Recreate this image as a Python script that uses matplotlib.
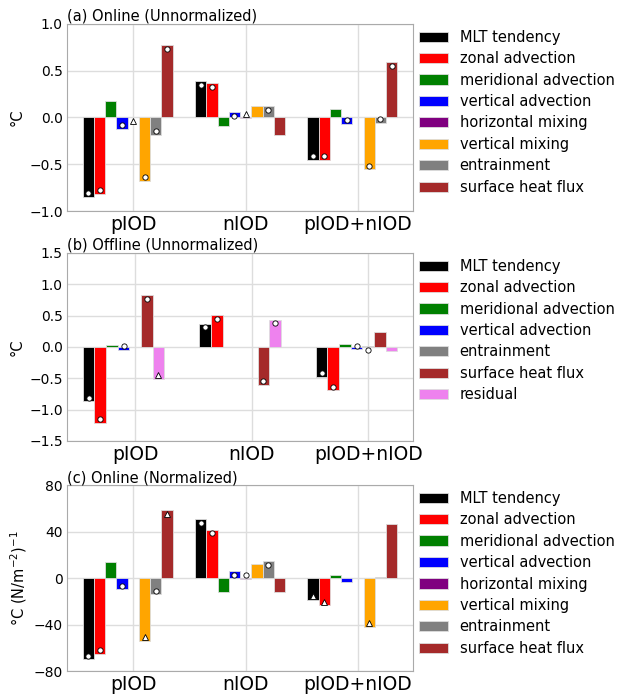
import numpy as np
import matplotlib
matplotlib.use('Agg')
import matplotlib.pyplot as plt

plt.rcParams['font.family'] = 'DejaVu Sans'

# Groups on the x axis
groups = ['pIOD', 'nIOD', 'pIOD+nIOD']

# Budget terms (online panels) and offline panel
terms_online = ['MLT tendency', 'zonal advection', 'meridional advection', 'vertical advection',
                'horizontal mixing', 'vertical mixing', 'entrainment', 'surface heat flux']
colors_online = ['black', 'red', 'green', 'blue', 'purple', 'orange', 'gray', 'brown']

terms_offline = ['MLT tendency', 'zonal advection', 'meridional advection', 'vertical advection',
                 'entrainment', 'surface heat flux', 'residual']
colors_offline = ['black', 'red', 'green', 'blue', 'gray', 'brown', 'violet']

# (a) Online (Unnormalized), rows = terms, columns = pIOD, nIOD, pIOD+nIOD
online_unnorm = [
    [-0.846, 0.389, -0.457],
    [-0.818, 0.364, -0.457],
    [0.175, -0.086, 0.089],
    [-0.125, 0.054, -0.071],
    [0.002, -0.002, 0.0],
    [-0.675, 0.118, -0.554],
    [-0.182, 0.118, -0.060],
    [0.775, -0.186, 0.593],
]
sig_online_unnorm = [
    ['o', 'o', 'o'],
    ['o', 'o', 'o'],
    ['', '', ''],
    ['o', 'o', 'o'],
    ['^', '^', ''],
    ['o', '', 'o'],
    ['o', 'o', 'o'],
    ['o', '', 'o'],
]

# (b) Offline (Unnormalized)
offline_unnorm = [
    [-0.870, 0.374, -0.480],
    [-1.210, 0.507, -0.694],
    [0.037, 0.0, 0.043],
    [-0.048, 0.0, -0.037],
    [0.004, 0.004, 0.010],
    [0.833, -0.603, 0.235],
    [-0.507, 0.438, -0.059],
]
sig_offline_unnorm = [
    ['o', 'o', 'o'],
    ['o', 'o', 'o'],
    ['', '', ''],
    ['o', '', 'o'],
    ['', '', 'o'],
    ['o', 'o', ''],
    ['^', 'o', ''],
]

# (c) Online (Normalized)
online_norm = [
    [-70.0, 50.5, -18.9],
    [-65.4, 41.6, -23.5],
    [13.5, -11.8, 2.3],
    [-9.75, 5.7, -3.7],
    [0.0, -0.6, 0.0],
    [-53.9, 11.8, -41.9],
    [-14.05, 14.6, 0.5],
    [58.5, -12.3, 46.5],
]
sig_online_norm = [
    ['o', 'o', '^'],
    ['o', 'o', '^'],
    ['', '', ''],
    ['o', 'o', ''],
    ['', 'o', ''],
    ['^', '', '^'],
    ['o', 'o', ''],
    ['^', '', ''],
]

panels = [
    ('(a) Online (Unnormalized)', online_unnorm, sig_online_unnorm, terms_online, colors_online,
     (-1.0, 1.0), [-1.0, -0.5, 0.0, 0.5, 1.0], ['\u22121.0', '\u22120.5', '0.0', '0.5', '1.0'], '\u00b0C'),
    ('(b) Offline (Unnormalized)', offline_unnorm, sig_offline_unnorm, terms_offline, colors_offline,
     (-1.5, 1.5), [-1.5, -1.0, -0.5, 0.0, 0.5, 1.0, 1.5],
     ['\u22121.5', '\u22121.0', '\u22120.5', '0.0', '0.5', '1.0', '1.5'], '\u00b0C'),
    ('(c) Online (Normalized)', online_norm, sig_online_norm, terms_online, colors_online,
     (-80, 80), [-80, -40, 0, 40, 80], ['\u221280', '\u221240', '0', '40', '80'],
     '\u00b0C (N/m$^{-2}$)$^{-1}$'),
]

fig = plt.figure(figsize=(6.18, 6.95), dpi=100)
axes_pos = [
    [0.1084, 0.6964, 0.560, 0.2691],
    [0.1084, 0.3655, 0.560, 0.2705],
    [0.1084, 0.0345, 0.560, 0.2676],
]

x = np.arange(len(groups))
width = 0.1

for pos, (title, vals, sig, terms, cols, ylim, yticks, yticklabels, ylabel) in zip(axes_pos, panels):
    ax = fig.add_axes(pos)
    ax.set_axisbelow(True)
    ax.grid(True, color='#dddddd', linewidth=1.0)
    off = 0.02 * (ylim[1] - ylim[0])
    for i, (term, c) in enumerate(zip(terms, cols)):
        v = np.array(vals[i])
        ax.bar(x + (i - 4) * width, v, width, color=c, label=term,
               edgecolor='#dddddd', linewidth=0.6)
        for j in range(len(groups)):
            m = sig[i][j]
            if m:
                ax.plot(x[j] + (i - 4) * width, v[j] - np.sign(v[j]) * off, marker=m,
                        markersize=3.8, markerfacecolor='white', markeredgecolor='black',
                        markeredgewidth=0.6, linestyle='none')
    ax.set_ylim(*ylim)
    ax.set_yticks(yticks)
    ax.set_yticklabels(yticklabels, fontsize=10)
    ax.set_xticks(x)
    ax.set_xticklabels(groups, fontsize=13.5)
    ax.tick_params(length=0, pad=3)
    for s in ax.spines.values():
        s.set_color('#aaaaaa')
    ax.set_ylabel(ylabel, fontsize=10.5, labelpad=3)
    ax.set_title(title, loc='left', fontsize=10.5, pad=1)
    ax.legend(loc='upper left', bbox_to_anchor=(1.0, 1.0), borderaxespad=0,
              frameon=False, fontsize=10.5, labelspacing=0.44)

fig.savefig('out.png', dpi=100)
